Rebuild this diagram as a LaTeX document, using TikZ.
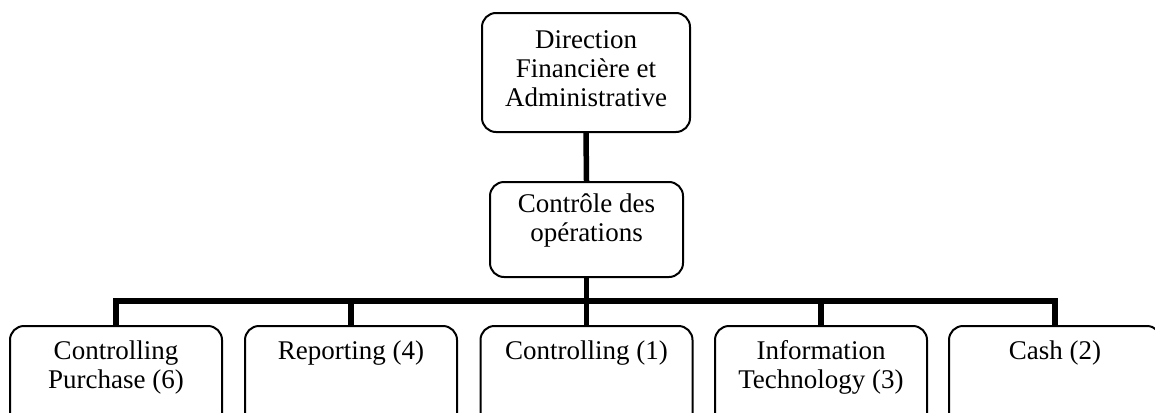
\documentclass[tikz,border=0pt]{standalone}
\usepackage{fontspec}
\setmainfont{Liberation Serif}
\newcommand{\boxtext}[4]{\begin{minipage}[c][#1][t]{#2}\centering\rule{0pt}{#3}#4\end{minipage}}
\begin{document}
\begin{tikzpicture}[x=0.5pt,y=-0.5pt,
  box/.style={draw,line width=1pt,rounded corners=7pt,inner sep=0pt,font=\fontsize{13.5}{14.5}\selectfont},
  bot/.style={box,anchor=north},
  conn/.style={line width=2.75pt},
]
\useasboundingbox (0,0) rectangle (1155,412);
\begin{scope}
\clip (0,0) rectangle (1155,412);
\node[box] (top) at (586,72.5) {\boxtext{59.5pt}{104pt}{17.5pt}{Direction\\Financière et\\Administrative}};
\node[box] (mid) at (586.5,229.5) {\boxtext{47.5pt}{96.5pt}{15pt}{Contrôle des\\opérations}};
\node[bot] (b1) at (116,325) {\boxtext{57.5pt}{106pt}{16.5pt}{Controlling\\Purchase (6)}};
\node[bot] (b2) at (351,325) {\boxtext{57.5pt}{106pt}{16.5pt}{Reporting (4)}};
\node[bot] (b3) at (586.5,325) {\boxtext{57.5pt}{106pt}{16.5pt}{Controlling (1)}};
\node[bot] (b4) at (821,325) {\boxtext{57.5pt}{106pt}{16.5pt}{Information\\Technology (3)}};
\node[bot] (b5) at (1055,325) {\boxtext{57.5pt}{106pt}{16.5pt}{Cash (2)}};
\coordinate (bus) at (586.5,301);
\draw[conn] (top.south) -- (mid.north);
\draw[conn] (mid.south) -- (bus);
\foreach \b in {b1,b2,b3,b4,b5} \draw[conn] (bus) -| (\b.north);
\end{scope}
\end{tikzpicture}
\end{document}
